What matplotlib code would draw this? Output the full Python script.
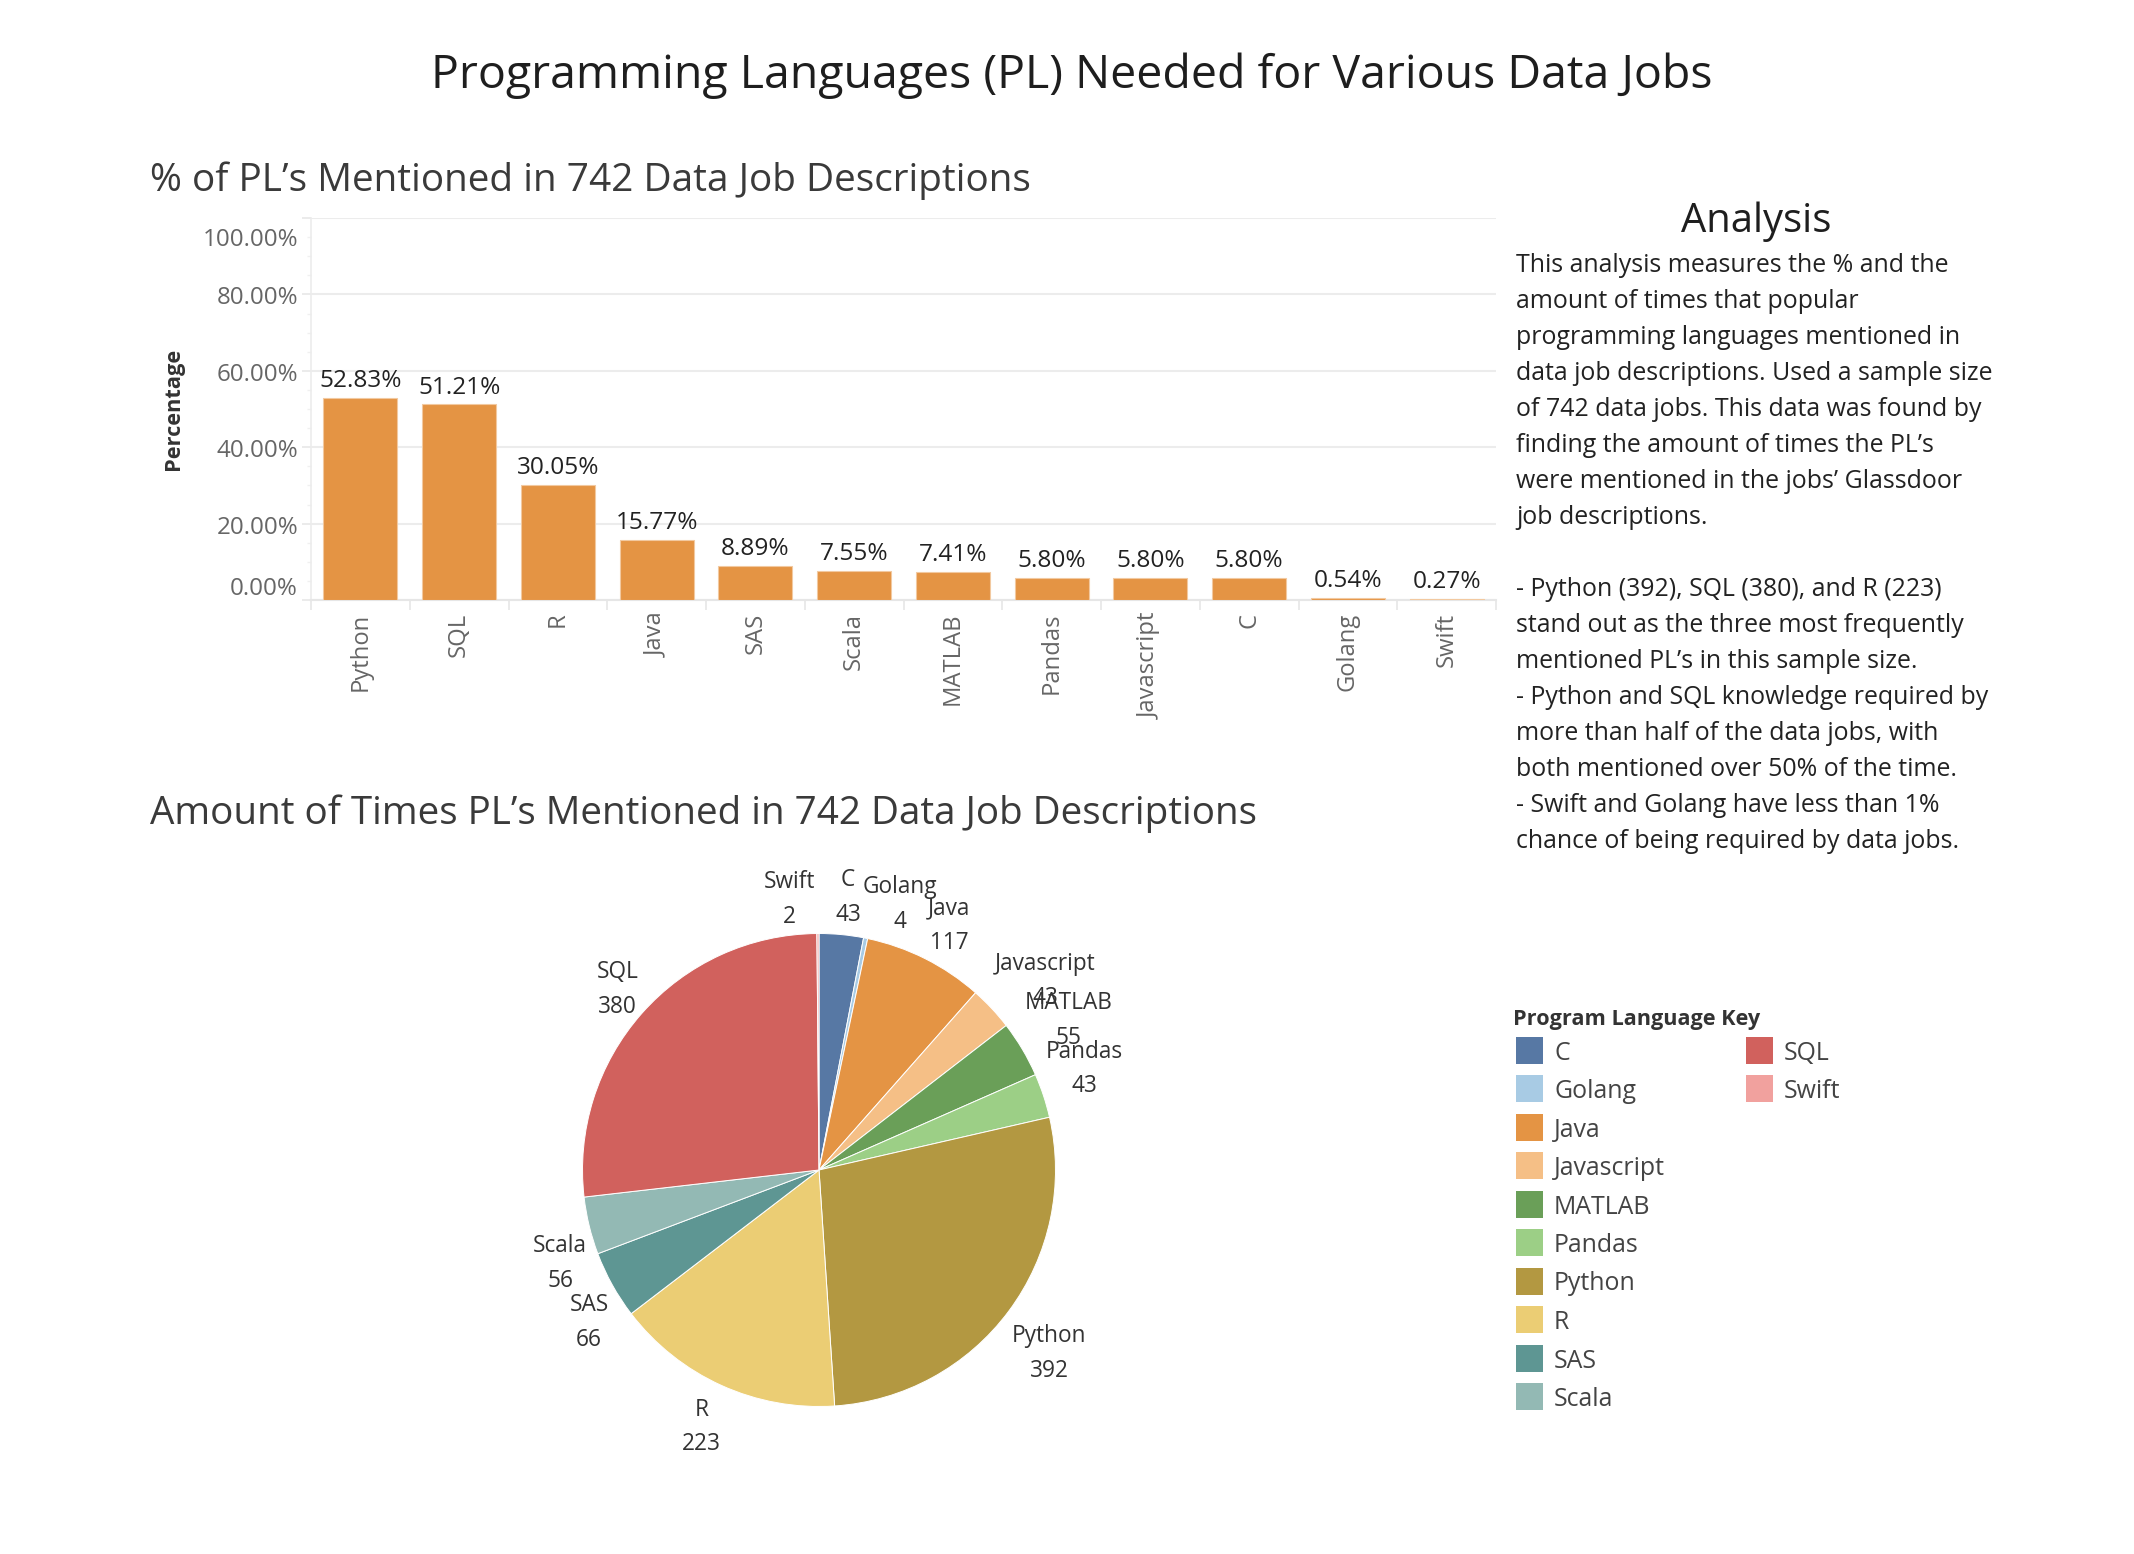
import matplotlib
matplotlib.use("Agg")
import matplotlib.pyplot as plt
from matplotlib.patches import Rectangle
from matplotlib.ticker import MultipleLocator, NullFormatter
import matplotlib.transforms as mtransforms
import numpy as np

plt.rcParams['font.family'] = ['Open Sans', 'DejaVu Sans']

# ---------------- data ----------------
bar_langs = ['Python', 'SQL', 'R', 'Java', 'SAS', 'Scala', 'MATLAB', 'Pandas',
             'Javascript', 'C', 'Golang', 'Swift']
bar_pct = [52.83, 51.21, 30.05, 15.77, 8.89, 7.55, 7.41, 5.80, 5.80, 5.80, 0.54, 0.27]
y_ticks = [0, 20, 40, 60, 80, 100]

pie_langs = ['C', 'Golang', 'Java', 'Javascript', 'MATLAB', 'Pandas', 'Python',
             'R', 'SAS', 'Scala', 'SQL', 'Swift']
pie_counts = [43, 4, 117, 43, 55, 43, 392, 223, 66, 56, 380, 2]

title = 'Programming Languages (PL) Needed for Various Data Jobs'
sub1 = '% of PL\u2019s Mentioned in 742 Data Job Descriptions'
sub2 = 'Amount of Times PL\u2019s Mentioned in 742 Data Job Descriptions'
analysis_lines = [
    'This analysis measures the % and the',
    'amount of times that popular',
    'programming languages mentioned in',
    'data job descriptions. Used a sample size',
    'of 742 data jobs. This data was found by',
    'finding the amount of times the PL\u2019s',
    'were mentioned in the jobs\u2019 Glassdoor',
    'job descriptions.',
    '',
    '- Python (392), SQL (380), and R (223)',
    'stand out as the three most frequently',
    'mentioned PL\u2019s in this sample size.',
    '- Python and SQL knowledge required by',
    'more than half of the data jobs, with',
    'both mentioned over 50% of the time.',
    '- Swift and Golang have less than 1%',
    'chance of being required by data jobs.',
]

# ---------------- styles ----------------
lang_colors = {
    'C': '#5778A4', 'Golang': '#A8CBE4', 'Java': '#E49444', 'Javascript': '#F5BF86',
    'MATLAB': '#6A9F58', 'Pandas': '#9CCF86', 'Python': '#B39841', 'R': '#EBCD74',
    'SAS': '#5E9693', 'Scala': '#93B9B4', 'SQL': '#D1615D', 'Swift': '#F1A19E',
}
bar_color = '#E49444'
label_nudge = {  # pixel nudges for crowded pie labels (x right, y up)
    'Swift': (-28, -6), 'C': (3, -3), 'Golang': (26, -6), 'Java': (6, -3),
    'Javascript': (24, 0), 'MATLAB': (12, 8), 'Pandas': (3, 14),
    'Python': (8, -18), 'R': (-3, -5), 'SAS': (12, -18), 'Scala': (10, -28),
    'SQL': (6, -3),
}

W, H, DPI = 2134, 1554, 100
fig = plt.figure(figsize=(W / DPI, H / DPI), dpi=DPI)
fig.patch.set_facecolor('white')
renderer = fig.canvas.get_renderer()


def size_for(s, target_px, weight='normal'):
    t = fig.text(0, 0, s, fontsize=20, weight=weight)
    w = t.get_window_extent(renderer=renderer).width
    t.remove()
    return 20 * target_px / w


# overlay axes in pixel coordinates for free text
ov = fig.add_axes([0, 0, 1, 1], zorder=0)
ov.set_xlim(0, W)
ov.set_ylim(H, 0)
ov.axis('off')

ov.text(1072, 76, title, ha='center', va='center', color='#1e1e1e',
        fontsize=size_for(title, 1278))
ov.text(150, 181, sub1, ha='left', va='center', color='#3a3a3a',
        fontsize=size_for(sub1, 882))
ov.text(150, 814, sub2, ha='left', va='center', color='#3a3a3a',
        fontsize=size_for(sub2, 1105))
ov.text(1756, 222, 'Analysis', ha='center', va='center', color='#1e1e1e',
        fontsize=size_for('Analysis', 150))
body_fs = size_for(analysis_lines[3], 476)
for i, line in enumerate(analysis_lines):
    ov.text(1516, 266 + 36 * i, line, ha='left', va='center', color='#222222',
            fontsize=body_fs)

ov.text(174, 409, 'Percentage', rotation=90, ha='center', va='center',
        weight='bold', color='#333333', fontsize=size_for('Percentage', 122, 'bold'))

# legend
ov.text(1513, 1020, 'Program Language Key', ha='left', va='center', weight='bold',
        color='#333333', fontsize=size_for('Program Language Key', 247, 'bold'))
leg_fs = size_for('Javascript', 111)
for idx, lang in enumerate(pie_langs):
    col, row = divmod(idx, 10)
    xs = 1516 + col * 230
    yc = 1050 + row * 38.5
    ov.add_patch(Rectangle((xs, yc - 13.5), 27, 27, facecolor=lang_colors[lang],
                           edgecolor='none'))
    ov.text(xs + 38, yc + 3, lang, ha='left', va='center', color='#444444',
            fontsize=leg_fs)

# ---------------- bar chart ----------------
ax = fig.add_axes([311 / W, 1 - 600 / H, 1185 / W, 382 / H], zorder=2)
x = np.arange(len(bar_langs))
ax.bar(x, bar_pct, width=0.75, color=bar_color, edgecolor='#F2C9A0', linewidth=0.8,
       zorder=3)
ax.set_xlim(-0.5, len(bar_langs) - 0.5)
ax.set_ylim(0, 100)
ax.set_facecolor('none')
ax.set_axisbelow(True)

ax.set_yticks(y_ticks)
ax.yaxis.set_major_formatter(NullFormatter())
ax.yaxis.set_minor_locator(MultipleLocator(5))
ax.yaxis.grid(True, which='major', color='#ececec', linewidth=1.5)
ax.tick_params(axis='y', which='major', length=6.5, width=1.2, color='#e8e8e8')
ax.tick_params(axis='y', which='minor', length=3, width=1, color='#f0f0f0')

# y tick labels (Tableau pulls the end labels inside the axis range)
ytick_fs = size_for('100.00%', 95)
ytrans = mtransforms.blended_transform_factory(ax.transAxes, ax.transData)
for v in y_ticks:
    off = -4
    if v == y_ticks[-1]:
        off = -22
    elif v == y_ticks[0]:
        off = 11
    ax.annotate(f'{v:.2f}%', (0, v), xycoords=ytrans, xytext=(-13 * 0.72, off * 0.72),
                textcoords='offset points', ha='right', va='center',
                fontsize=ytick_fs, color='#666666', annotation_clip=False)

ax.set_xticks(x)
ax.set_xticklabels(bar_langs, rotation=90)
ax.set_xticks(np.arange(len(bar_langs) + 1) - 0.5, minor=True)
xtick_fs = size_for('Javascript', 106)
ax.tick_params(axis='x', which='major', length=0, pad=9, labelcolor='#666666',
               labelsize=xtick_fs)
ax.tick_params(axis='x', which='minor', length=7, width=1.2, color='#e6e6e6')
for sp in ['top', 'right']:
    ax.spines[sp].set_visible(False)
ax.spines['left'].set_color('#ececec')
ax.spines['bottom'].set_color('#e6e6e6')
ax.spines['left'].set_linewidth(1.2)
ax.spines['bottom'].set_linewidth(1.5)

val_fs = size_for('52.83%', 82)
for i, v in enumerate(bar_pct):
    ax.annotate(f'{v:.2f}%', (x[i], v), xytext=(0, 3.5), textcoords='offset points',
                ha='center', va='bottom', fontsize=val_fs, color='#222222')

# ---------------- pie chart ----------------
ax2 = fig.add_axes([(819 - 350) / W, 1 - (1170 + 350) / H, 700 / W, 700 / H], zorder=2)
wedges, _ = ax2.pie(pie_counts, colors=[lang_colors[l] for l in pie_langs],
                    startangle=90, counterclock=False,
                    wedgeprops=dict(edgecolor='white', linewidth=0.7))
ax2.set_xlim(-1.48, 1.48)
ax2.set_ylim(-1.48, 1.48)
ax2.set_aspect('equal')
ax2.axis('off')

pie_fs = size_for('Javascript', 101)
for w, name, val in zip(wedges, pie_langs, pie_counts):
    mid = np.deg2rad((w.theta1 + w.theta2) / 2)
    px, py = 1.17 * np.cos(mid), 1.17 * np.sin(mid)
    dx, dy = label_nudge.get(name, (0, 0))
    ax2.annotate(f'{name}\n{val}', (px, py), xytext=(dx * 0.72, dy * 0.72),
                 textcoords='offset points', ha='center', va='center',
                 fontsize=pie_fs, linespacing=1.6, color='#333333')

fig.savefig('out.png', dpi=DPI, facecolor='white')
